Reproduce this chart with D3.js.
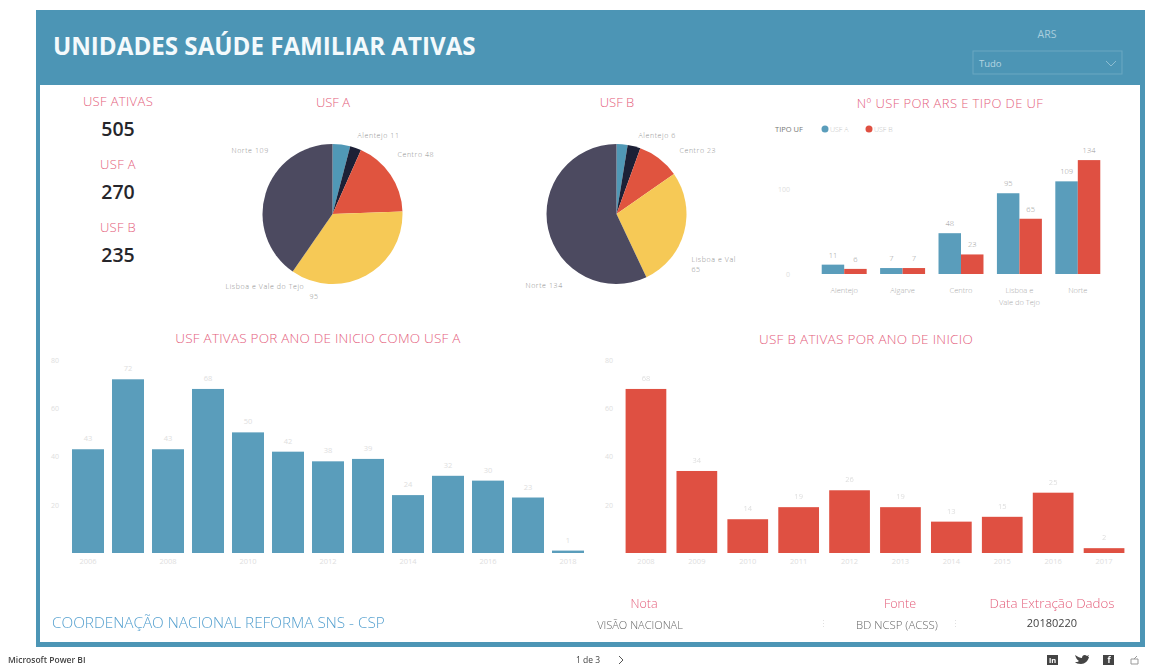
<!DOCTYPE html>
<html>
<head>
<meta charset="utf-8">
<script src="https://cdn.jsdelivr.net/npm/d3@7"></script>
<style>
  html, body { margin: 0; padding: 0; background: #fff; }
  svg { display: block; filter: blur(0.45px); }
  text { font-family: "Open Sans", sans-serif; }
  .axis .domain, .axis line { display: none; }
</style>
</head>
<body>
<div id="chart"></div>
<script>
const regions = ['Alentejo', 'Algarve', 'Centro', 'Lisboa e Vale do Tejo', 'Norte'];
const usfA = [11, 7, 48, 95, 109];
const usfB = [6, 7, 23, 65, 134];
const yearsA = ['2006', '2007', '2008', '2009', '2010', '2011', '2012', '2013', '2014', '2015', '2016', '2017', '2018'];
const startsA = [43, 72, 43, 68, 50, 42, 38, 39, 24, 32, 30, 23, 1];
const yearsB = ['2008', '2009', '2010', '2011', '2012', '2013', '2014', '2015', '2016', '2017'];
const startsB = [68, 34, 14, 19, 26, 19, 13, 15, 25, 2];
const yearTicks = [0, 20, 40, 60, 80];
const regionTicks = [0, 100];
const kpis = [['USF ATIVAS', '505'], ['USF A', '270'], ['USF B', '235']];

const teal = '#4c95b5', barTeal = '#5a9dbb', red = '#df5042', pink = '#e4607c';
const faint = '#c4c4c4', fainter = '#dedede';
const pieColors = ['#5098b6', '#1c2036', '#e0543f', '#f6c956', '#4c4a60'];

const svg = d3.select('#chart').append('svg').attr('width', 1160).attr('height', 665);

// frame + header
svg.append('rect').attr('x', 36).attr('y', 10).attr('width', 1109).attr('height', 637).attr('fill', teal);
svg.append('rect').attr('x', 40).attr('y', 85).attr('width', 1100).attr('height', 557).attr('fill', '#fff');

const label = (x, y, str, size, fill, anchor = 'middle', weight = 400) => svg.append('text')
  .attr('x', x).attr('y', y).attr('text-anchor', anchor)
  .attr('font-size', size).attr('font-weight', weight).attr('fill', fill).text(str);

label(53, 55, 'UNIDADES SAÚDE FAMILIAR ATIVAS', 24.15, '#f4fafc', 'start', 700);
label(1047, 38, 'ARS', 10.5, '#a9cedd');
svg.append('rect').attr('x', 973).attr('y', 51).attr('width', 149).attr('height', 23)
  .attr('fill', 'none').attr('stroke', '#6aa8c2');
label(979, 67, 'Tudo', 9.5, '#b5d5e2', 'start');
svg.append('path').attr('d', 'M1106,61l5,5l5,-5').attr('fill', 'none').attr('stroke', '#8dbdd1');

// KPI cards
kpis.forEach(([name, value], i) => {
  const y = [106, 169, 232][i];
  label(118, y, name, 13, pink, 'middle', 300).attr('letter-spacing', 0.35);
  label(118, y + 30, value, 19.5, '#26262b', 'middle', 600);
});

// chart titles
label(333, 107, 'USF A', 13, pink, 'middle', 300);
label(617, 107, 'USF B', 13, pink, 'middle', 300);
label(950, 108, 'Nº USF POR ARS E TIPO DE UF', 13, pink, 'middle', 300).attr('letter-spacing', 0.4);
label(318, 343, 'USF ATIVAS POR ANO DE INICIO COMO USF A', 13.5, pink, 'middle', 300).attr('letter-spacing', 0.23);
label(866, 344, 'USF B ATIVAS POR ANO DE INICIO', 13.5, pink, 'middle', 300).attr('letter-spacing', 0.3);

// pies
function drawPie(cx, cy, values, labels) {
  const arcs = d3.pie().sort(null)(values);
  const arc = d3.arc().innerRadius(0).outerRadius(70);
  const g = svg.append('g').attr('transform', `translate(${cx}, ${cy})`);
  g.selectAll('path').data(arcs).enter().append('path')
    .attr('d', arc).attr('fill', (d, i) => pieColors[i]);
  labels.forEach(l => {
    const t = g.append('text').attr('x', l.x).attr('y', l.y).attr('text-anchor', l.anchor || 'start')
      .attr('font-size', 7).attr('font-weight', 300).attr('letter-spacing', 0.6).attr('fill', '#8f8f8f');
    l.lines.forEach((line, i) => t.append('tspan').attr('x', i && l.x2 !== undefined ? l.x2 : l.x)
      .attr('dy', i ? 10 : 0).text(line));
  });
}
drawPie(332.5, 214, usfA, [
  {x: 25, y: -76, lines: [`${regions[0]} ${usfA[0]}`]},
  {x: 65, y: -57, lines: [`${regions[2]} ${usfA[2]}`]},
  {x: -101, y: -61, lines: [`${regions[4]} ${usfA[4]}`]},
  {x: -107, y: 75, x2: -23, lines: [regions[3], `${usfA[3]}`]}
]);
drawPie(616.5, 214, usfB, [
  {x: 22, y: -76, lines: [`${regions[0]} ${usfB[0]}`]},
  {x: 63, y: -61, lines: [`${regions[2]} ${usfB[2]}`]},
  {x: 75, y: 48, lines: ['Lisboa e Val', `${usfB[3]}`]},
  {x: -91, y: 74, lines: [`${regions[4]} ${usfB[4]}`]}
]);

// clustered bars by region
const legendY = 129;
label(775, legendY + 3, 'TIPO UF', 7.5, '#777', 'start');
[['USF A', barTeal, 825], ['USF B', red, 869]].forEach(([name, color, x]) => {
  svg.append('circle').attr('cx', x).attr('cy', legendY).attr('r', 3.5).attr('fill', color);
  label(x + 5, legendY + 3, name, 7, faint, 'start', 300);
});

const x0 = d3.scaleBand().domain(regions).range([815, 1107]).paddingInner(0.23).paddingOuter(0.115);
const x1 = d3.scaleBand().domain([0, 1]).range([0, x0.bandwidth()]);
const yR = d3.scaleLinear().domain([0, 100]).range([274, 189]);

const axisR = svg.append('g').attr('class', 'axis').attr('transform', 'translate(793, 0)')
  .call(d3.axisLeft(yR).tickValues(regionTicks).tickSize(0));
axisR.selectAll('text').attr('font-size', 7).attr('fill', fainter);

const axisX = svg.append('g').attr('class', 'axis').attr('transform', 'translate(0, 283)')
  .call(d3.axisBottom(x0).tickSize(0).tickFormat(''));
axisX.selectAll('.tick text').each(function (d) {
  const lines = d === regions[3] ? ['Lisboa e', 'Vale do Tejo'] : [d];
  const t = d3.select(this).attr('font-size', 7.5).attr('font-weight', 300).attr('fill', '#aaa').text(null);
  lines.forEach((line, i) => t.append('tspan').attr('x', 0).attr('dy', i ? 12 : 7).text(line));
});

[usfA, usfB].forEach((series, s) => {
  const g = svg.append('g');
  g.selectAll('rect').data(series).enter().append('rect')
    .attr('x', (d, i) => x0(regions[i]) + x1(s))
    .attr('y', d => yR(d))
    .attr('width', x1.bandwidth())
    .attr('height', d => yR(0) - yR(d))
    .attr('fill', s ? red : barTeal);
  g.selectAll('text').data(series).enter().append('text')
    .attr('x', (d, i) => x0(regions[i]) + x1(s) + x1.bandwidth() / 2)
    .attr('y', d => yR(d) - 7)
    .attr('text-anchor', 'middle').attr('font-size', 7.5).attr('font-weight', 300).attr('fill', '#999')
    .text(d => d);
});

// yearly bars
function drawYears(years, values, range, color, tickX, tickValues) {
  const x = d3.scaleBand().domain(years).range(range).paddingInner(0.2).paddingOuter(0.1);
  const y = d3.scaleLinear().domain([0, 80]).range([553, 360]);
  const ay = svg.append('g').attr('class', 'axis').attr('transform', `translate(${tickX}, 0)`)
    .call(d3.axisLeft(y).tickValues(yearTicks.slice(1)).tickSize(0));
  ay.selectAll('text').attr('font-size', 7).attr('fill', fainter);
  const ax = svg.append('g').attr('class', 'axis').attr('transform', 'translate(0, 556)')
    .call(d3.axisBottom(x).tickValues(tickValues).tickSize(0));
  ax.selectAll('text').attr('font-size', 7.5).attr('fill', fainter);
  svg.append('g').selectAll('rect').data(values).enter().append('rect')
    .attr('x', (d, i) => x(years[i]))
    .attr('y', d => y(d))
    .attr('width', x.bandwidth())
    .attr('height', d => y(0) - y(d))
    .attr('fill', color);
  svg.append('g').selectAll('text').data(values).enter().append('text')
    .attr('x', (d, i) => x(years[i]) + x.bandwidth() / 2)
    .attr('y', d => y(d) - 8)
    .attr('text-anchor', 'middle').attr('font-size', 7.5).attr('fill', fainter)
    .text(d => d);
}
drawYears(yearsA, startsA, [68, 588], barTeal, 62, yearsA.filter((d, i) => i % 2 === 0));
drawYears(yearsB, startsB, [620.5, 1129.5], red, 616, yearsB);

// footer inside the frame
label(52, 628, 'COORDENAÇÃO NACIONAL REFORMA SNS - CSP', 15.3, '#55a0cf', 'start', 300);
label(644, 608, 'Nota', 12.5, pink, 'middle', 300);
label(900, 608, 'Fonte', 12.5, pink, 'middle', 300);
label(1052, 608, 'Data Extração Dados', 13.3, pink, 'middle', 300);
label(640, 629, 'VISÃO NACIONAL', 11, '#666', 'middle', 300);
label(897, 629, 'BD NCSP (ACSS)', 11.4, '#666', 'middle', 300);
label(1052, 627, '20180220', 11, '#444');
label(823, 627, '⋮', 9, fainter);
label(955, 627, '⋮', 9, fainter);

// Power BI bar
label(8, 663, 'Microsoft Power BI', 8.5, '#444', 'start', 600);
label(588, 663, '1 de 3', 8.5, '#444');
svg.append('path').attr('d', 'M619,656l4,4l-4,4').attr('fill', 'none').attr('stroke', '#555');
svg.append('rect').attr('x', 1047).attr('y', 655).attr('width', 11).attr('height', 10).attr('fill', '#444');
label(1052.5, 663, 'in', 7.5, '#fff', 'middle', 700);
svg.append('path').attr('d', 'M1075,655c3,2 5,3 7,3c0,-3 3,-4 5,-2l2,-1l-1,2l1,0c-1,4 -4,7 -8,7c-3,0 -5,-1 -6,-2c2,0 3,0 4,-1c-2,-1 -3,-3 -4,-6z').attr('fill', '#444');
svg.append('rect').attr('x', 1103).attr('y', 655).attr('width', 11).attr('height', 10).attr('fill', '#444');
label(1109, 663, 'f', 8, '#fff', 'middle', 700);
svg.append('path').attr('d', 'M1131,664v-5h7v5z M1134,659l3,-3').attr('fill', 'none').attr('stroke', '#999');
</script>
</body>
</html>
